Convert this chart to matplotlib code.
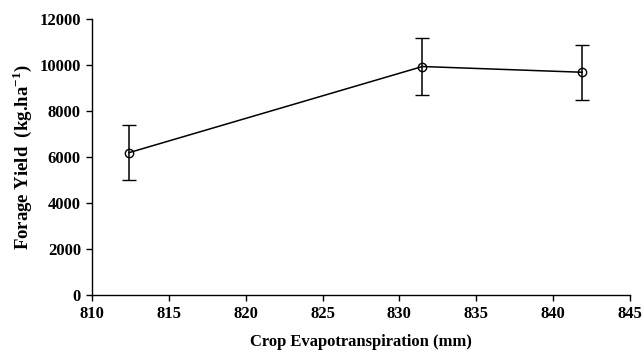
import numpy as np
import matplotlib.pyplot as plt

# data
et_mm = [812.4, 831.5, 841.9]
yield_kg = [6200, 9950, 9700]
yield_err = [1200, 1230, 1200]

x_ticks = [810, 815, 820, 825, 830, 835, 840, 845]
y_ticks = [0, 2000, 4000, 6000, 8000, 10000, 12000]

plt.rcParams['font.family'] = ['Liberation Serif', 'DejaVu Serif']
plt.rcParams['font.weight'] = 'bold'
plt.rcParams['mathtext.fontset'] = 'custom'
plt.rcParams['mathtext.rm'] = 'Liberation Serif:bold'
plt.rcParams['mathtext.bf'] = 'Liberation Serif:bold'

fig = plt.figure(figsize=(6.44, 3.53), dpi=100)
ax = fig.add_axes([0.143, 0.164, 0.835, 0.781])

ax.errorbar(et_mm, yield_kg, yerr=yield_err, color='black', linewidth=1.1,
            elinewidth=1.1, capsize=5, capthick=1.1,
            marker='o', markersize=6, markerfacecolor='none',
            markeredgecolor='black', markeredgewidth=1.0)

ax.set_xlim(810, 845)
ax.set_ylim(0, 12000)
ax.set_xticks(x_ticks)
ax.set_yticks(y_ticks)

for side in ['top', 'right']:
    ax.spines[side].set_visible(False)
for side in ['left', 'bottom']:
    ax.spines[side].set_linewidth(1.0)

ax.tick_params(direction='out', length=4, width=1.0, labelsize=12, pad=4)
for lbl in ax.get_xticklabels() + ax.get_yticklabels():
    lbl.set_fontweight('bold')

ax.set_xlabel('Crop Evapotranspiration (mm)', fontsize=12, fontweight='bold', labelpad=8.5)
ax.set_ylabel(r'Forage Yield  (kg.ha$^{\mathbf{-1}}$)', fontsize=13.5, fontweight='bold', labelpad=4)

fig.savefig('out.png', dpi=100)
